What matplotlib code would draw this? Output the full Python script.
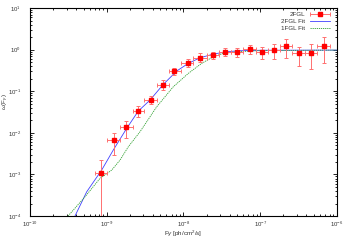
import matplotlib
matplotlib.use('Agg')
import matplotlib.pyplot as plt
import numpy as np
import matplotlib.ticker as ticker

plt.rcParams.update({'font.size': 4.5, 'font.family': ['Liberation Sans', 'DejaVu Sans'],
                     'mathtext.fontset': 'custom', 'mathtext.rm': 'Liberation Sans',
                     'mathtext.it': 'Liberation Sans:italic', 'mathtext.bf': 'Liberation Sans:bold'})

# 2FGL points (flux, omega, error bar limits, bin edges)
flux = [8.4e-10, 1.23e-9, 1.8e-9, 2.58e-9, 3.78e-9, 5.4e-9, 7.6e-9, 1.13e-8, 1.66e-8, 2.4e-8,
        3.47e-8, 5.0e-8, 7.3e-8, 1.05e-7, 1.52e-7, 2.19e-7, 3.16e-7, 4.6e-7, 6.7e-7]
omega = [1.07e-3, 6.6e-3, 1.36e-2, 0.0334, 0.0614, 0.141, 0.306, 0.484, 0.64, 0.73,
         0.875, 0.875, 1.02, 0.86, 0.96, 1.22, 0.815, 0.83, 1.22]
omega_hi = [2.2e-3, 1.0e-2, 0.019, 0.044, 0.077, 0.183, 0.37, 0.60, 0.81, 0.89,
            1.09, 1.1, 1.28, 1.18, 1.39, 1.77, 1.18, 1.37, 2.05]
omega_lo = [1e-5, 3.0e-3, 7.4e-3, 0.0245, 0.0483, 0.107, 0.25, 0.386, 0.50, 0.59,
            0.70, 0.68, 0.80, 0.60, 0.60, 0.64, 0.41, 0.335, 0.47]
bin_edges = [7.0e-10, 1.0e-9, 1.5e-9, 2.2e-9, 3.1e-9, 4.5e-9, 6.4e-9, 9.2e-9, 1.35e-8, 2.0e-8,
             2.9e-8, 4.2e-8, 6.0e-8, 8.7e-8, 1.26e-7, 1.82e-7, 2.63e-7, 3.8e-7, 5.5e-7, 8.0e-7]

# fit curves, read as log10 values
fit2_logx = [-9.414, -9.261, -9.066, -8.915, -8.740, -8.589, -8.436, -8.263, -8.089, -7.937,
             -7.785, -7.612, -7.437, -7.286, -7.0, -6.0]
fit2_logy = [-4.0, -3.416, -2.894, -2.413, -1.892, -1.476, -1.212, -0.834, -0.514, -0.329,
             -0.195, -0.106, -0.050, -0.026, -0.014, -0.01]
fit1_logx = [-9.505, -9.283, -9.088, -8.935, -8.827, -8.719, -8.567, -8.349, -8.133, -7.937,
             -7.763, -7.612, -7.481, -7.307, -7.0, -6.0]
fit1_logy = [-4.0, -3.536, -3.094, -2.894, -2.654, -2.334, -1.974, -1.373, -0.892, -0.570,
             -0.329, -0.171, -0.089, -0.050, -0.022, -0.01]

labels = ['2FGL', '2FGL Fit', '1FGL Fit']
xticks = [1e-10, 1e-9, 1e-8, 1e-7, 1e-6]
yticks = [1e-4, 1e-3, 1e-2, 1e-1, 1e0, 1e1]

RED = '#ff0000'
RED_ERR = '#ff7070'
BLUE = '#4040ff'
GREEN = '#30a030'
TXT = '#333333'

fig = plt.figure(figsize=(3.5, 2.45), dpi=100)
ax = fig.add_axes([0.0857, 0.118, 0.877, 0.849])

x = np.array(flux)
y = np.array(omega)
edges = np.array(bin_edges)
xerr = [x - edges[:-1], edges[1:] - x]
yerr = [y - np.array(omega_lo), np.array(omega_hi) - y]

ax.errorbar(x, y, xerr=xerr, yerr=yerr, fmt='none', ecolor=RED_ERR, elinewidth=0.7,
            capsize=1.2, capthick=0.7, zorder=3)
ax.plot(x, y, 's', color=RED, markersize=2.6, zorder=4)
ax.plot(10 ** np.array(fit2_logx), 10 ** np.array(fit2_logy), '-', color=BLUE,
        linewidth=0.6, zorder=2)
ax.plot(10 ** np.array(fit1_logx), 10 ** np.array(fit1_logy), '--', color=GREEN,
        linewidth=0.6, dashes=(1.5, 1.0), zorder=2)

# gnuplot style key: right-aligned text, sample to the right
key_y = [0.971, 0.9375, 0.904]
tx, x0, x1, xm = 0.896, 0.912, 0.979, 0.945
for lab, ky in zip(labels, key_y):
    ax.text(tx, ky, lab, transform=ax.transAxes, ha='right', va='center', color=TXT)
ax.plot([x0, x1], [key_y[0]] * 2, '-', color=RED_ERR, linewidth=0.7, transform=ax.transAxes)
ax.plot([x0, x1], [key_y[0]] * 2, '|', color=RED_ERR, markersize=2.4, markeredgewidth=0.7,
        transform=ax.transAxes)
ax.plot([xm], [key_y[0]], 's', color=RED, markersize=2.6, transform=ax.transAxes)
ax.plot([x0, x1], [key_y[1]] * 2, '-', color=BLUE, linewidth=0.6, transform=ax.transAxes)
ax.plot([x0, x1], [key_y[2]] * 2, '--', color=GREEN, linewidth=0.6, dashes=(1.5, 1.0),
        transform=ax.transAxes)

ax.set_xscale('log')
ax.set_yscale('log')
ax.set_xlim(1e-10, 1e-6)
ax.set_ylim(1e-4, 10)
ax.set_xticks(xticks)
ax.set_yticks(yticks)
ax.xaxis.set_minor_locator(ticker.LogLocator(base=10, subs=np.arange(2, 10), numticks=10))
ax.yaxis.set_minor_locator(ticker.LogLocator(base=10, subs=np.arange(2, 10), numticks=10))
ax.xaxis.set_minor_formatter(ticker.NullFormatter())
ax.yaxis.set_minor_formatter(ticker.NullFormatter())
ax.tick_params(which='both', direction='in', top=True, right=True, labelsize=4.3,
               labelcolor=TXT, width=0.6)
ax.tick_params(axis='x', which='major', pad=2.5)
ax.tick_params(axis='y', which='major', pad=6.5)
ax.tick_params(which='major', length=3)
ax.tick_params(which='minor', length=1.5)
for s in ax.spines.values():
    s.set_linewidth(0.8)

ax.set_xlabel(r'F$\gamma$ [ph/cm$^2$/s]', color=TXT)
ax.set_ylabel(r'$\omega$(F$_\gamma$)', color=TXT)
ax.xaxis.set_label_coords(0.5, -0.06)
ax.yaxis.set_label_coords(-0.062, 0.55)

plt.savefig('out.png', dpi=100)
